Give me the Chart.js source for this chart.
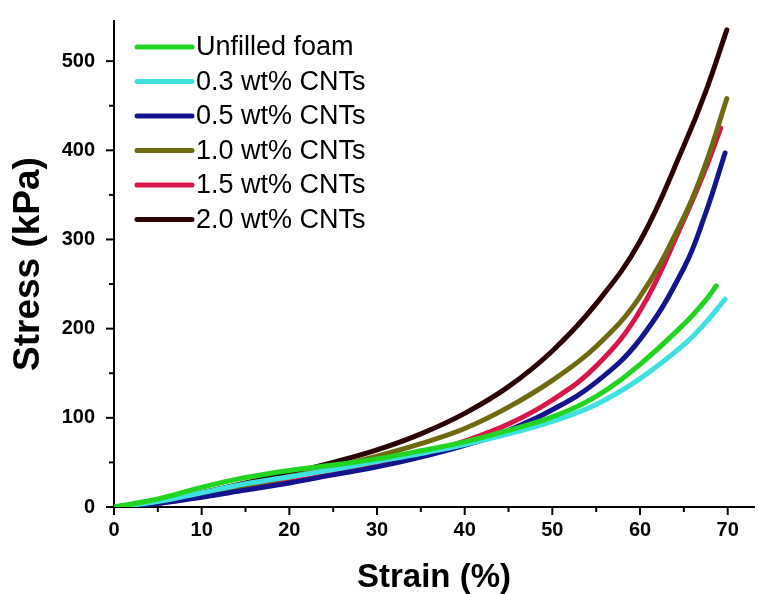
<!DOCTYPE html>
<html>
<head>
<meta charset="utf-8">
<script src="https://cdn.jsdelivr.net/npm/chart.js@4.4.0/dist/chart.umd.min.js"></script>
<style>
  html, body { margin: 0; padding: 0; background: #fff; }
  #wrap { width: 758px; height: 594px; }
</style>
</head>
<body>
<div id="wrap"><canvas id="stress-chart" width="758" height="594"></canvas></div>
<script>
// strain points shared by all curves (%), each curve then has its own end point
const strain = [0, 5, 10, 15, 20, 25, 30, 35, 40, 45, 50, 55, 60, 65, 67.5];

const labels = ['Unfilled foam', '0.3 wt% CNTs', '0.5 wt% CNTs', '1.0 wt% CNTs', '1.5 wt% CNTs', '2.0 wt% CNTs'];
const colors = ['#22d422', '#3ee0e0', '#14148c', '#6f6a12', '#d8164a', '#2a0404'];

// stress (kPa) read at the strain points above
const unfilled = [0, 9, 22, 33, 41, 47, 54, 63, 73, 86, 101, 124, 160, 205, 232];
const cnt03 = [0, 6, 16, 26, 34, 42, 51, 60, 70, 82, 96, 115, 144, 182, 207];
const cnt05 = [0, 4, 11, 19, 27, 36, 45, 56, 69, 86, 109, 140, 188, 268, 330];
const cnt10 = [0, 5, 14, 24, 34, 45, 57, 71, 88, 112, 142, 180, 236, 325, 385];
const cnt15 = [0, 4, 12, 20, 28, 37, 47, 59, 74, 93, 120, 158, 220, 322, 380];
const cnt20 = [0, 5, 16, 27, 38, 50, 64, 82, 105, 135, 175, 228, 298, 405, 466];

// where each curve stops
const endStrain = [68.7, 69.7, 69.7, 69.9, 69.2, 69.9];
const endStress = [248, 233, 397, 458, 425, 535];

const xTicks = [0, 10, 20, 30, 40, 50, 60, 70];
const yTicks = [0, 100, 200, 300, 400, 500];

const series = [unfilled, cnt03, cnt05, cnt10, cnt15, cnt20];
const FONT = '"Liberation Sans", Arial, sans-serif';

function toPoints(vals, i) {
	const pts = vals.map((v, k) => ({ x: strain[k], y: v }));
	pts.push({ x: endStrain[i], y: endStress[i] });
	return pts;
}

// outward major / minor ticks and the legend inside the plot
const decorPlugin = {
	id: 'decor',
	afterDraw(chart) {
		const ctx = chart.ctx;
		const xs = chart.scales.x, ys = chart.scales.y;
		const area = chart.chartArea;
		ctx.save();
		ctx.strokeStyle = '#000';
		ctx.lineWidth = 2;
		xs.ticks.forEach(t => {
			const px = xs.getPixelForValue(t.value);
			const len = xTicks.includes(t.value) ? 8 : 5;
			ctx.beginPath();
			ctx.moveTo(px, area.bottom);
			ctx.lineTo(px, area.bottom + len);
			ctx.stroke();
		});
		ys.ticks.forEach(t => {
			if (t.value > 500) return;
			const py = ys.getPixelForValue(t.value);
			const len = yTicks.includes(t.value) ? 8 : 5;
			ctx.beginPath();
			ctx.moveTo(area.left, py);
			ctx.lineTo(area.left - len, py);
			ctx.stroke();
		});

		// legend
		ctx.font = '27px ' + FONT;
		ctx.textBaseline = 'middle';
		ctx.fillStyle = '#000';
		chart.data.datasets.forEach((ds, i) => {
			const y = 47 + i * 34.5;
			ctx.strokeStyle = ds.borderColor;
			ctx.lineWidth = 5;
			ctx.lineCap = 'round';
			ctx.beginPath();
			ctx.moveTo(137, y);
			ctx.lineTo(192, y);
			ctx.stroke();
			ctx.fillText(ds.label, 196, y + 1);
		});
		ctx.restore();
	}
};

new Chart(document.getElementById('stress-chart'), {
	type: 'line',
	data: {
		datasets: series.map((vals, i) => ({
			label: labels[i],
			data: toPoints(vals, i),
			borderColor: colors[i],
			borderWidth: 5,
			pointRadius: 0,
			tension: 0.4,
			borderCapStyle: 'round',
			fill: false
		}))
	},
	options: {
		responsive: false,
		animation: false,
		layout: { padding: { top: 20, right: 4 } },
		plugins: {
			legend: { display: false },
			tooltip: { enabled: false }
		},
		scales: {
			x: {
				type: 'linear',
				min: 0,
				max: 73,
				grid: { display: false },
				border: { display: true, color: '#000', width: 2 },
				ticks: {
					stepSize: 5,
					includeBounds: false,
					autoSkip: false,
					maxRotation: 0,
					padding: 5,
					color: '#000',
					font: { family: FONT, size: 20, weight: 'bold', lineHeight: 1 },
					callback: v => (xTicks.includes(v) ? v : '')
				},
				title: {
					display: true,
					text: 'Strain (%)',
					color: '#000',
					padding: 0,
					font: { family: FONT, size: 33, weight: 'bold', lineHeight: 1 }
				},
				afterFit: s => { s.height = 87; }
			},
			y: {
				min: 0,
				max: 545,
				grid: { display: false },
				border: { display: true, color: '#000', width: 2 },
				ticks: {
					stepSize: 50,
					includeBounds: false,
					autoSkip: false,
					padding: 11,
					color: '#000',
					font: { family: FONT, size: 20, weight: 'bold', lineHeight: 1 },
					callback: v => (yTicks.includes(v) ? v : '')
				},
				title: {
					display: true,
					text: 'Stress (kPa)',
					color: '#000',
					padding: { top: 10, bottom: 0 },
					font: { family: FONT, size: 37, weight: 'bold', lineHeight: 1 }
				},
				afterFit: s => { s.width = 114; }
			}
		}
	},
	plugins: [decorPlugin]
});
</script>
</body>
</html>
